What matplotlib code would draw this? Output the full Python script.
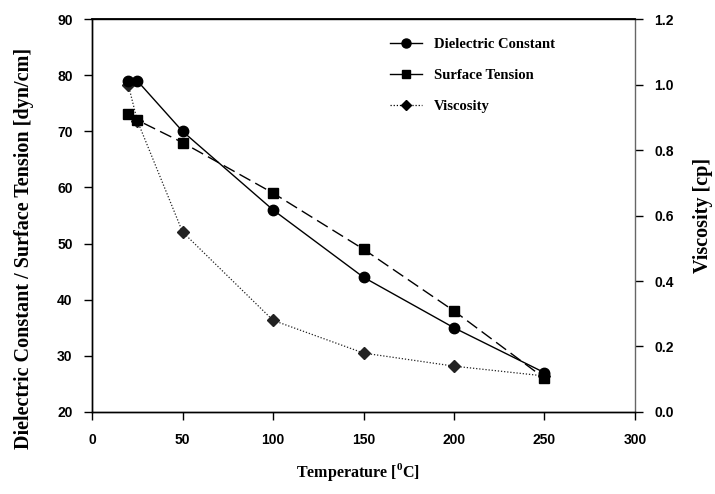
import matplotlib
matplotlib.use("Agg")
import matplotlib.pyplot as plt
from matplotlib.lines import Line2D

plt.rcParams['mathtext.fontset'] = 'custom'
plt.rcParams['mathtext.rm'] = 'Liberation Serif:bold'
plt.rcParams['mathtext.bf'] = 'Liberation Serif:bold'

temps = [20, 25, 50, 100, 150, 200, 250]
dielectric = [79, 79, 70, 56, 44, 35, 27]
surface_tension = [73, 72, 68, 59, 49, 38, 26]
viscosity = [1.0, 0.89, 0.55, 0.28, 0.18, 0.14, 0.11]

xticks = [0, 50, 100, 150, 200, 250, 300]
yticks_left = [20, 30, 40, 50, 60, 70, 80, 90]
yticks_right = [0.0, 0.2, 0.4, 0.6, 0.8, 1.0, 1.2]

fig = plt.figure(figsize=(7.15, 4.94), dpi=100)
ax = fig.add_axes([0.1287, 0.166, 0.7594, 0.7955])
ax2 = ax.twinx()
ax.set_zorder(ax2.get_zorder() + 1)
ax.patch.set_visible(False)

ax.plot(temps, dielectric, '-', color='black', lw=1.0, marker='o', ms=7.5,
        label='Dielectric Constant')
ax.plot(temps, surface_tension, color='black', lw=1.0, ls=(0, (9, 4)), marker='s', ms=7,
        label='Surface Tension')
ax2.plot(temps, viscosity, color='#222222', lw=0.9, ls=(0, (1, 1.5)), marker='D', ms=6,
         label='Viscosity')

ax.set_xlim(0, 300)
ax.set_ylim(20, 90)
ax2.set_ylim(0, 1.2)
ax.set_xticks(xticks)
ax.set_yticks(yticks_left)
ax2.set_yticks(yticks_right)
ax2.set_yticklabels([f"{v:.1f}" for v in yticks_right])

for lab in ax.get_xticklabels() + ax.get_yticklabels() + ax2.get_yticklabels():
    lab.set_fontfamily('Liberation Sans')
    lab.set_fontweight('bold')
    lab.set_fontsize(10)

ax.tick_params(axis='x', direction='out', length=6, width=1, pad=9)
ax.tick_params(axis='y', direction='out', length=6, width=1, pad=8)
ax2.tick_params(axis='y', direction='out', length=6, width=1, pad=8)

for a in (ax, ax2):
    for s in a.spines.values():
        s.set_linewidth(1.0)
ax.spines['right'].set_visible(False)
ax2.spines['right'].set_color('#666666')
ax.spines['top'].set_linewidth(1.3)

ax.set_xlabel('Temperature [$^{0}$C]', family='Liberation Serif', weight='bold', size=11.5)
ax.xaxis.set_label_coords(0.49, -0.125)
ax.set_ylabel('Dielectric Constant / Surface Tension [dyn/cm]', family='Liberation Serif',
              weight='bold', size=14.5)
ax.yaxis.set_label_coords(-0.107, 0.417)
ax2.set_ylabel('Viscosity [cp]', family='Liberation Serif', weight='bold',
               size=14.5, labelpad=14)

handles = [
    Line2D([], [], color='black', lw=1.0, marker='o', ms=6.5),
    Line2D([], [], color='black', lw=1.0, marker='s', ms=6),
    Line2D([], [], color='black', lw=0.9, ls=(0, (1, 1.5)), marker='D', ms=5.5),
]
labels = ['Dielectric Constant', 'Surface Tension', 'Viscosity']
leg = ax.legend(handles, labels, loc='upper left', bbox_to_anchor=(0.525, 0.985),
                frameon=False, handlelength=2.2, handletextpad=0.8, labelspacing=1.2,
                prop=dict(family='Liberation Serif', weight='bold', size=10.5))

fig.savefig('out.png', dpi=100)
